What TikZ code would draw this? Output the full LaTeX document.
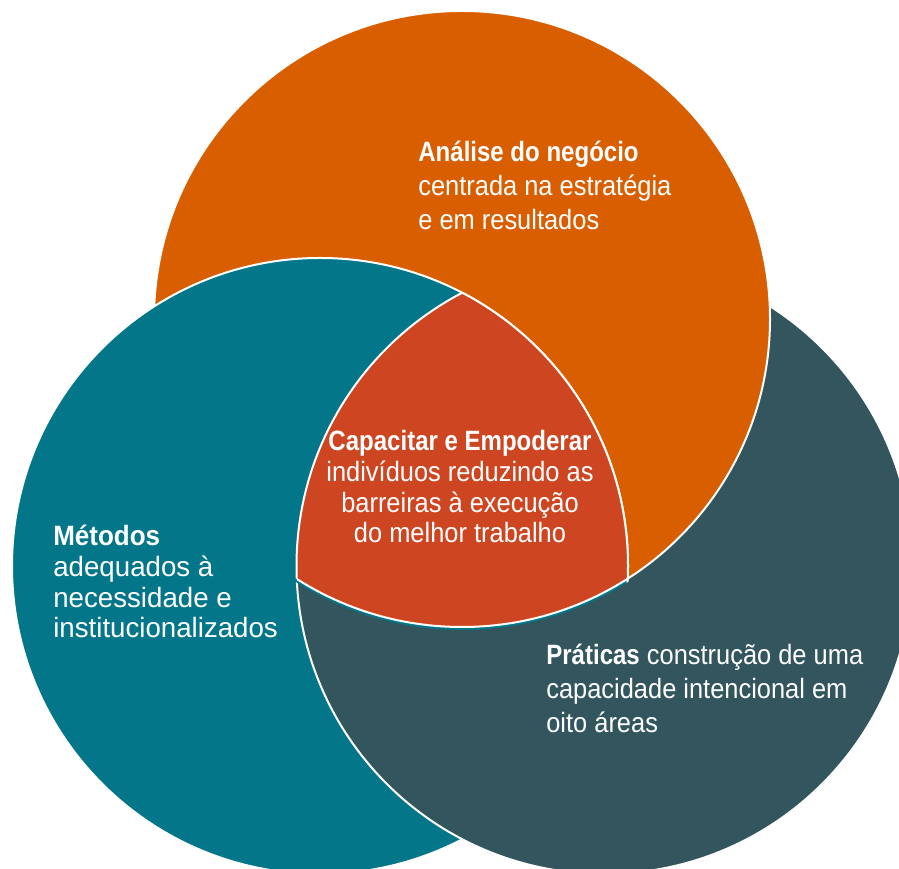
\documentclass[tikz,border=0pt]{standalone}
\usepackage{fontspec}
\setmainfont{Liberation Sans}[FakeStretch=0.91]
\newfontfamily\headfont{Liberation Sans}[FakeStretch=0.86]
\newfontfamily\metfont{Liberation Sans}[FakeStretch=0.99]
\newfontfamily\metheadfont{Liberation Sans}[FakeStretch=0.93]
\newcommand\blockhead[1]{{\headfont\bfseries #1}}

\definecolor{anaorange}{RGB}{217,94,0}
\definecolor{metteal}{RGB}{3,118,138}
\definecolor{praslate}{RGB}{50,85,94}
\definecolor{caprust}{RGB}{206,70,33}

\tikzset{
  disc/.style={draw=white,line width=0.4mm},
  txt/.style={text=white,inner sep=0pt,align=left,font=\fontsize{15.9}{19.6}\selectfont},
  txtnarrow/.style={txt,font=\fontsize{15.9}{17.5}\selectfont},
}

\begin{document}
\begin{tikzpicture}[x=0.2mm,y=0.2mm]
\useasboundingbox (0,0) rectangle (899,869);
\clip (0,0) rectangle (899,869);
\coordinate (ana) at (462,550);
\coordinate (met) at (320,303);
\coordinate (pra) at (604.5,303);
% three circles, each one lying over the next
\path[disc,fill=metteal] (met) circle (308);
\path[disc,fill=praslate] (pra) circle (308);
\path[disc,fill=anaorange] (ana) circle (308);
\begin{scope}
  \clip (ana) circle (311);
  \path[disc,fill=metteal] (met) circle (308);
\end{scope}
% centre lens
\begin{scope}
  \clip (ana) circle (308);
  \clip (met) circle (308);
  \fill[caprust] (pra) circle (308);
\end{scope}
\begin{scope}
  \clip (met) circle (308); \clip (pra) circle (308);
  \draw[disc] (ana) circle (308);
\end{scope}
\begin{scope}
  \clip (ana) circle (308); \clip (pra) circle (308);
  \draw[disc] (met) circle (308);
\end{scope}
\begin{scope}
  \clip (ana) circle (308); \clip (met) circle (308);
  \draw[disc] (pra) circle (308);
\end{scope}
% labels (anchored on the last line)
\node[txt,anchor=base west] (analise) at (418,639)
  {\blockhead{Análise do negócio}\\centrada na estratégia\\e em resultados};
\node[txtnarrow,anchor=base west,font=\metfont\fontsize{15.9}{17.5}\selectfont] (metodos) at (53,231)
  {{\metheadfont\bfseries Métodos}\\adequados à\\necessidade e\\institucionalizados};
\node[txtnarrow,align=center,anchor=base] (capacitar) at (460,326)
  {\blockhead{Capacitar e Empoderar}\\indivíduos reduzindo as\\barreiras à execução\\do melhor trabalho};
\node[txt,anchor=base west] (praticas) at (546,136)
  {\blockhead{Práticas} construção de uma\\capacidade intencional em\\oito áreas};
\end{tikzpicture}
\end{document}
